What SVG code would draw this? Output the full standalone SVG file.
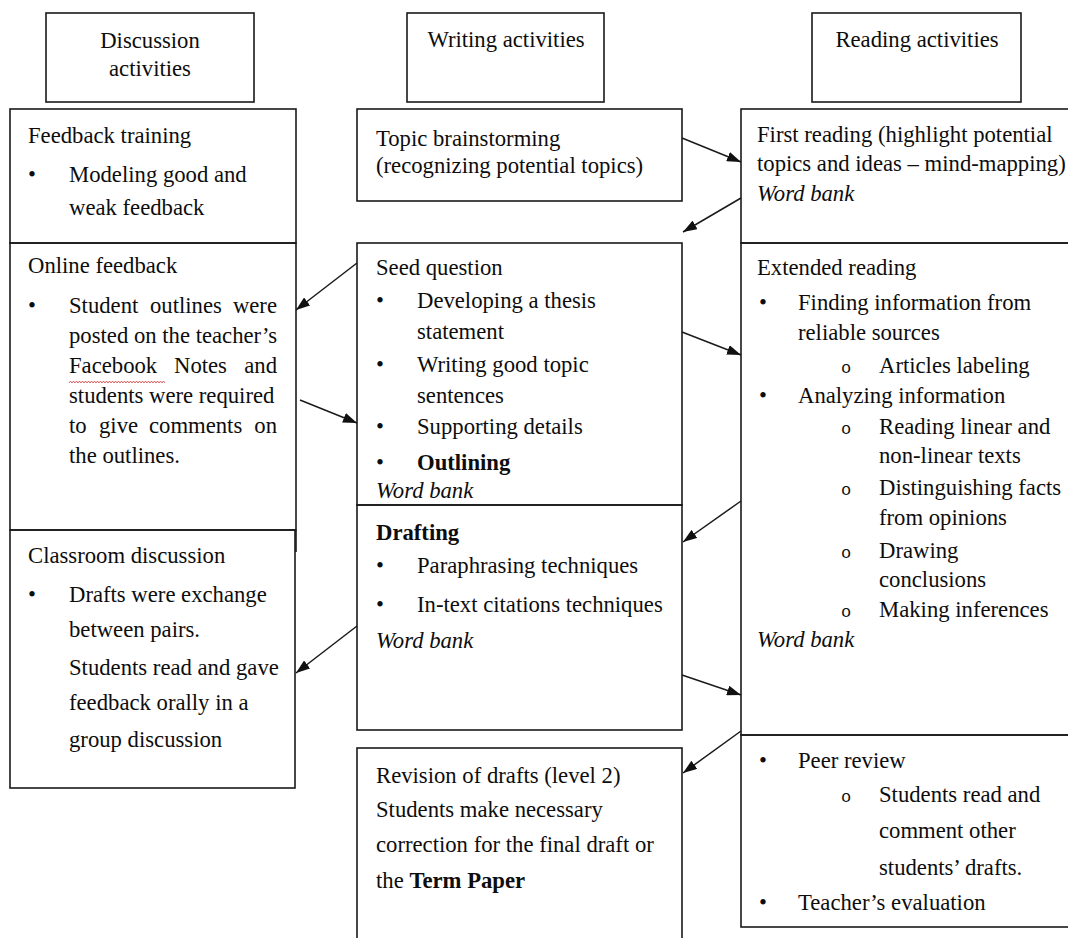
<svg xmlns="http://www.w3.org/2000/svg" width="1068" height="938" viewBox="0 0 1068 938">
<style>
  .box{fill:none;stroke:#1a1a1a;stroke-width:1.6}
  .t{font-family:"Liberation Serif","Times New Roman",serif;font-size:22.7px;fill:#0d0d0d}
  .c{text-anchor:middle}
  .e{text-anchor:end}
  .b{font-weight:bold}
  .i{font-style:italic}
  .o{font-family:"Liberation Mono","Courier New",monospace;font-size:17px;fill:#0d0d0d;text-anchor:middle}
  .conn line{stroke:#1a1a1a;stroke-width:1.5}
</style>
<defs>
  <marker id="arr" viewBox="0 0 14 10" refX="14" refY="5" markerWidth="14" markerHeight="10" orient="auto" markerUnits="userSpaceOnUse">
    <path d="M0,0 L14,5 L0,10 z" fill="#111"/>
  </marker>
</defs>
<rect width="1068" height="938" fill="#fff"/>

<g id="hdr-discussion">
  <rect class="box" x="46" y="13" width="208" height="89"/>
  <text class="t c" x="150" y="48">Discussion</text>
  <text class="t c" x="150" y="76">activities</text>
</g>
<g id="hdr-writing">
  <rect class="box" x="407" y="13" width="197" height="89"/>
  <text class="t c" x="506" y="47">Writing activities</text>
</g>
<g id="hdr-reading">
  <rect class="box" x="812" y="13" width="209" height="89"/>
  <text class="t c" x="917" y="47">Reading activities</text>
</g>

<g id="feedback-training">
  <rect class="box" x="10" y="109" width="286" height="134"/>
  <text class="t" x="28" y="143">Feedback training</text>
  <text class="t c" x="32" y="182">•</text>
  <text class="t" x="69" y="182">Modeling good and</text>
  <text class="t" x="69" y="215">weak feedback</text>
</g>

<g id="online-feedback">
  <rect class="box" x="10" y="243" width="286" height="287"/>
  <line x1="296" y1="530" x2="296" y2="552" stroke="#1a1a1a" stroke-width="1.6"/>
  <text class="t" x="28" y="273">Online feedback</text>
  <text class="t c" x="32" y="313">•</text>
  <text class="t" x="69" y="313">Student</text>
  <text class="t" x="150" y="313">outlines</text>
  <text class="t e" x="277" y="313">were</text>
  <text class="t" x="69" y="343">posted on the teacher’s</text>
  <text class="t" x="69" y="373">Facebook</text>
  <text class="t" x="174" y="373">Notes</text>
  <text class="t e" x="277" y="373">and</text>
  <path d="M69,383 l1.5,-2 l1.5,2 l1.5,-2 l1.5,2 l1.5,-2 l1.5,2 l1.5,-2 l1.5,2 l1.5,-2 l1.5,2 l1.5,-2 l1.5,2 l1.5,-2 l1.5,2 l1.5,-2 l1.5,2 l1.5,-2 l1.5,2 l1.5,-2 l1.5,2 l1.5,-2 l1.5,2 l1.5,-2 l1.5,2 l1.5,-2 l1.5,2 l1.5,-2 l1.5,2 l1.5,-2 l1.5,2 l1.5,-2 l1.5,2 l1.5,-2 l1.5,2 l1.5,-2 l1.5,2 l1.5,-2 l1.5,2 l1.5,-2 l1.5,2 l1.5,-2 l1.5,2 l1.5,-2 l1.5,2 l1.5,-2 l1.5,2 l1.5,-2 l1.5,2 l1.5,-2 l1.5,2 l1.5,-2 l1.5,2 l1.5,-2 l1.5,2 l1.5,-2 l1.5,2 l1.5,-2 l1.5,2 l1.5,-2 l1.5,2 l1.5,-2 l1.5,2 l1.5,-2 l1.5,2" fill="none" stroke="#d04040" stroke-width="0.8"/>
  <text class="t" x="69" y="403">students were required</text>
  <text class="t" x="69" y="433">to</text>
  <text class="t" x="99" y="433">give</text>
  <text class="t" x="149" y="433">comments</text>
  <text class="t e" x="277" y="433">on</text>
  <text class="t" x="69" y="463">the outlines.</text>
</g>

<g id="classroom-discussion">
  <rect class="box" x="10" y="530" width="285" height="258"/>
  <text class="t" x="28" y="563">Classroom discussion</text>
  <text class="t c" x="32" y="602">•</text>
  <text class="t" x="69" y="602">Drafts were exchange</text>
  <text class="t" x="69" y="637">between pairs.</text>
  <text class="t" x="69" y="675">Students read and gave</text>
  <text class="t" x="69" y="710">feedback orally in a</text>
  <text class="t" x="69" y="747">group discussion</text>
</g>

<g id="topic-brainstorming">
  <rect class="box" x="357" y="109" width="325" height="92"/>
  <text class="t" x="376" y="146">Topic brainstorming</text>
  <text class="t" x="376" y="173">(recognizing potential topics)</text>
</g>

<g id="seed-question">
  <rect class="box" x="357" y="243" width="325" height="262"/>
  <text class="t" x="376" y="275">Seed question</text>
  <text class="t c" x="380" y="308">•</text>
  <text class="t" x="417" y="308">Developing a thesis</text>
  <text class="t" x="417" y="339">statement</text>
  <text class="t c" x="380" y="372">•</text>
  <text class="t" x="417" y="372">Writing good topic</text>
  <text class="t" x="417" y="403">sentences</text>
  <text class="t c" x="380" y="434">•</text>
  <text class="t" x="417" y="434">Supporting details</text>
  <text class="t c" x="380" y="470">•</text>
  <text class="t b" x="417" y="470">Outlining</text>
  <text class="t i" x="376" y="498">Word bank</text>
</g>

<g id="drafting">
  <rect class="box" x="357" y="505" width="325" height="225"/>
  <text class="t b" x="376" y="540">Drafting</text>
  <text class="t c" x="380" y="573">•</text>
  <text class="t" x="417" y="573">Paraphrasing techniques</text>
  <text class="t c" x="380" y="612">•</text>
  <text class="t" x="417" y="612">In-text citations techniques</text>
  <text class="t i" x="376" y="648">Word bank</text>
</g>

<g id="revision">
  <rect class="box" x="357" y="748" width="325" height="200"/>
  <text class="t" x="376" y="783">Revision of drafts (level 2)</text>
  <text class="t" x="376" y="817">Students make necessary</text>
  <text class="t" x="376" y="852">correction for the final draft or</text>
  <text class="t" x="376" y="888">the <tspan class="b">Term Paper</tspan></text>
</g>

<g id="first-reading">
  <rect class="box" x="741" y="109" width="340" height="134"/>
  <text class="t" x="757" y="142">First reading (highlight potential</text>
  <text class="t" x="757" y="171">topics and ideas – mind-mapping)</text>
  <text class="t i" x="757" y="201">Word bank</text>
</g>

<g id="extended-reading">
  <rect class="box" x="741" y="243" width="340" height="492"/>
  <text class="t" x="757" y="275">Extended reading</text>
  <text class="t c" x="763" y="310">•</text>
  <text class="t" x="798" y="310">Finding information from</text>
  <text class="t" x="798" y="340">reliable sources</text>
  <text class="o" x="846" y="373">o</text>
  <text class="t" x="879" y="373">Articles labeling</text>
  <text class="t c" x="763" y="403">•</text>
  <text class="t" x="798" y="403">Analyzing information</text>
  <text class="o" x="846" y="434">o</text>
  <text class="t" x="879" y="434">Reading linear and</text>
  <text class="t" x="879" y="463">non-linear texts</text>
  <text class="o" x="846" y="495">o</text>
  <text class="t" x="879" y="495">Distinguishing facts</text>
  <text class="t" x="879" y="525">from opinions</text>
  <text class="o" x="846" y="558">o</text>
  <text class="t" x="879" y="558">Drawing</text>
  <text class="t" x="879" y="587">conclusions</text>
  <text class="o" x="846" y="617">o</text>
  <text class="t" x="879" y="617">Making inferences</text>
  <text class="t i" x="757" y="647">Word bank</text>
</g>

<g id="peer-review">
  <rect class="box" x="741" y="735" width="340" height="192"/>
  <text class="t c" x="763" y="768">•</text>
  <text class="t" x="798" y="768">Peer review</text>
  <text class="o" x="846" y="802">o</text>
  <text class="t" x="879" y="802">Students read and</text>
  <text class="t" x="879" y="838">comment other</text>
  <text class="t" x="879" y="875">students’ drafts.</text>
  <text class="t c" x="763" y="910">•</text>
  <text class="t" x="798" y="910">Teacher’s evaluation</text>
</g>

<g id="connectors" class="conn">
  <line x1="682" y1="138" x2="741" y2="162" marker-end="url(#arr)"/>
  <line x1="741" y1="198" x2="683" y2="232" marker-end="url(#arr)"/>
  <line x1="357" y1="263" x2="296" y2="310" marker-end="url(#arr)"/>
  <line x1="300" y1="400" x2="357" y2="423" marker-end="url(#arr)"/>
  <line x1="682" y1="332" x2="741" y2="355" marker-end="url(#arr)"/>
  <line x1="741" y1="501" x2="683" y2="542" marker-end="url(#arr)"/>
  <line x1="357" y1="626" x2="296" y2="673" marker-end="url(#arr)"/>
  <line x1="682" y1="675" x2="741" y2="695" marker-end="url(#arr)"/>
  <line x1="741" y1="731" x2="683" y2="773" marker-end="url(#arr)"/>
</g>
</svg>
